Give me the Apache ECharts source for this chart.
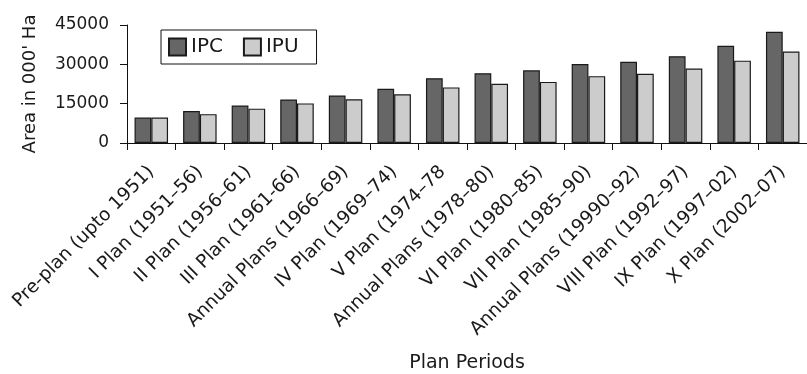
<!DOCTYPE html>
<html>
<head>
<meta charset="utf-8">
<script src="https://cdn.jsdelivr.net/npm/echarts@6/dist/echarts.min.js"></script>
<style>
  html, body { margin: 0; padding: 0; background: #fff; }
  #chart { width: 807px; height: 374px; }
</style>
</head>
<body>
<div id="chart"></div>
<script>
// Irrigation potential created (IPC) and utilised (IPU), in thousand hectares
const planPeriods = [
  'Pre-plan (upto 1951)',
  'I Plan (1951–56)',
  'II Plan (1956–61)',
  'III Plan (1961-66)',
  'Annual Plans (1966–69)',
  'IV Plan (1969–74)',
  'V Plan (1974–78',
  'Annual Plans (1978–80)',
  'VI Plan (1980–85)',
  'VII Plan (1985–90)',
  'Annual Plans (19990–92)',
  'VIII Plan (1992–97)',
  'IX Plan (1997–02)',
  'X Plan (2002–07)'
];
const ipcValues = [9700, 12200, 14300, 16600, 18100, 20700, 24700, 26600, 27700, 30100, 31000, 33100, 37100, 42400];
const ipuValues = [9700, 11000, 13100, 15100, 16700, 18600, 21200, 22600, 23300, 25500, 26400, 28400, 31400, 34900];
const yTicks = [0, 15000, 30000, 45000];

const FONT = 'DejaVu Sans';
const INK = '#1a1a1a';

const chart = echarts.init(document.getElementById('chart'), null, { renderer: 'canvas' });

chart.setOption({
  animation: false,
  backgroundColor: '#fff',
  textStyle: { fontFamily: FONT, color: INK },
  grid: { left: 127, top: 25, width: 682, height: 124, containLabel: false },
  legend: {
    left: 161,
    top: 30,
    orient: 'horizontal',
    itemWidth: 17,
    itemHeight: 17,
    itemGap: 20,
    padding: [7, 18, 7, 7],
    borderColor: '#111',
    borderWidth: 1,
    icon: 'rect',
    textStyle: { fontFamily: FONT, fontSize: 20, color: INK, lineHeight: 17 },
    data: ['IPC', 'IPU']
  },
  xAxis: {
    type: 'category',
    data: planPeriods,
    name: 'Plan Periods',
    nameLocation: 'middle',
    nameGap: 211,
    nameTextStyle: { fontFamily: FONT, fontSize: 19, color: INK },
    axisLine: { lineStyle: { color: '#111', width: 1 } },
    axisTick: { show: true, length: 7, lineStyle: { color: '#111' } },
    axisLabel: {
      interval: 0,
      rotate: 45,
      margin: 26,
      fontFamily: FONT,
      fontSize: 18.5,
      color: INK
    },
    splitLine: { show: false }
  },
  yAxis: {
    type: 'value',
    min: yTicks[0],
    max: yTicks[yTicks.length - 1],
    interval: yTicks[1] - yTicks[0],
    name: "Area in 000' Ha",
    nameLocation: 'middle',
    nameRotate: 90,
    nameGap: 88,
    nameTextStyle: { fontFamily: FONT, fontSize: 18, color: INK },
    axisLine: { show: true, lineStyle: { color: '#111', width: 1 } },
    axisTick: { show: true, length: 7, lineStyle: { color: '#111' } },
    axisLabel: {
      margin: 18,
      fontFamily: FONT,
      fontSize: 17,
      color: INK,
      formatter: (v) => String(v)
    },
    splitLine: { show: false }
  },
  series: [
    {
      name: 'IPC',
      type: 'bar',
      data: ipcValues,
      barGap: '0%',
      barCategoryGap: '31%',
      itemStyle: { color: '#666666', borderColor: '#1a1a1a', borderWidth: 1.2 }
    },
    {
      name: 'IPU',
      type: 'bar',
      data: ipuValues,
      itemStyle: { color: '#cccccc', borderColor: '#1a1a1a', borderWidth: 1.2 }
    }
  ]
});
</script>
</body>
</html>
